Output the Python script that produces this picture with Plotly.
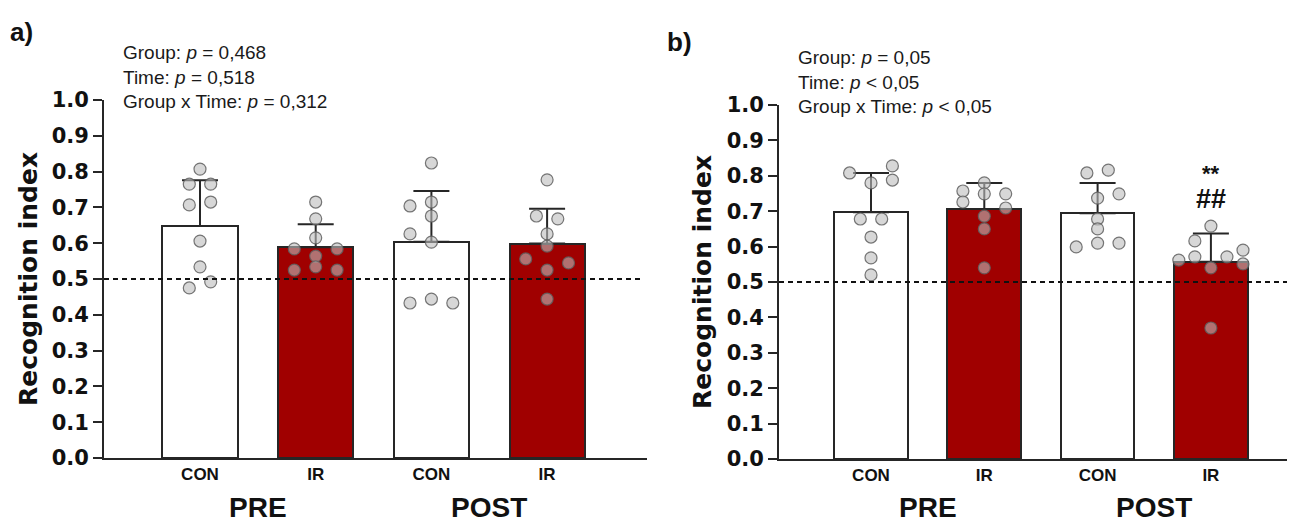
import plotly.graph_objects as go

# ---------------- data ----------------
groups = ["CON", "IR", "CON", "IR"]
times = ["PRE", "POST"]

# panel a
a_means = [0.648, 0.589, 0.604, 0.599]
a_sd = [0.128, 0.064, 0.142, 0.097]
a_con_pre = [0.807, 0.765, 0.765, 0.707, 0.715, 0.606, 0.534, 0.492, 0.475]
a_ir_pre = [0.715, 0.668, 0.615, 0.584, 0.584, 0.564, 0.525, 0.534, 0.525]
a_con_post = [0.824, 0.704, 0.715, 0.676, 0.626, 0.603, 0.433, 0.444, 0.433]
a_ir_post = [0.777, 0.676, 0.668, 0.626, 0.592, 0.556, 0.545, 0.525, 0.444]

# panel b
b_means = [0.697, 0.706, 0.694, 0.557]
b_sd = [0.111, 0.074, 0.086, 0.080]
b_con_pre = [0.808, 0.828, 0.788, 0.780, 0.678, 0.678, 0.627, 0.568, 0.520]
b_ir_pre = [0.780, 0.757, 0.749, 0.749, 0.726, 0.709, 0.686, 0.650, 0.540]
b_con_post = [0.808, 0.816, 0.749, 0.737, 0.678, 0.650, 0.599, 0.610, 0.610]
b_ir_post = [0.658, 0.616, 0.590, 0.562, 0.571, 0.571, 0.551, 0.540, 0.370]

a_stats = ["Group: <i>p</i> = 0,468", "Time: <i>p</i> = 0,518", "Group x Time: <i>p</i> = 0,312"]
b_stats = ["Group: <i>p</i> = 0,05", "Time: <i>p</i> &lt; 0,05", "Group x Time: <i>p</i> &lt; 0,05"]

y_ticks = [0.0, 0.1, 0.2, 0.3, 0.4, 0.5, 0.6, 0.7, 0.8, 0.9, 1.0]
chance_level = 0.5

# swarm layout (marker slots, multiples of one marker spacing)
a_swarm = [
    [0, -1, 1, -1, 1, 0, 0, 1, -1],
    [0, 0, 0, -2, 2, 0, -2, 0, 2],
    [0, -2, 0, 0, -2, 0, -2, 0, 2],
    [0, -1, 1, 0, 0, -2, 2, 0, 0],
]
b_swarm = [
    [-2, 2, 2, 0, -1, 1, 0, 0, 0],
    [0, -2, 0, 2, -2, 2, 0, 0, 0],
    [-1, 1, 2, 0, 0, 0, -2, 0, 2],
    [0, -1.5, 3, -3, -1.5, 1.5, 3, 0, 0],
]

# ---------------- style ----------------
W, H = 1295, 521
OFF = 8  # page body margin: figure is drawn 8px right/down in the window
RED = "#a00000"
AX = "#262626"
FONT = "Arial, Liberation Sans, sans-serif"
WIDEFONT = "DejaVu Sans, sans-serif"
bar_colors = ["white", RED, "white", RED]


def px_x(x):
    return (x - OFF) / W


def px_y(y):
    return (H - (y - OFF)) / H


# pixel geometry (window coordinates)
panels = [
    dict(x0=104, x1=647, y0=458, y1=100, c0=200, step=115.7, sfx=""),
    dict(x0=779, x1=1293, y0=459, y1=105, c0=871, step=113.3, sfx="2"),
]

fig = go.Figure()
datasets = [
    (a_means, a_sd, [a_con_pre, a_ir_pre, a_con_post, a_ir_post], a_swarm),
    (b_means, b_sd, [b_con_pre, b_ir_pre, b_con_post, b_ir_post], b_swarm),
]

for p, (means, sds, pts, swarm) in zip(panels, datasets):
    xa = "x" + p["sfx"]
    ya = "y" + p["sfx"]
    d = 10.7 / p["step"]
    fig.add_trace(go.Bar(
        x=list(range(4)), y=means, width=0.65,
        marker=dict(color=bar_colors, line=dict(color=AX, width=2)),
        error_y=dict(type="data", symmetric=False, array=sds, arrayminus=[0] * 4,
                     color=AX, thickness=2, width=18),
        xaxis=xa, yaxis=ya, showlegend=False, hoverinfo="skip",
    ))
    for i, vals in enumerate(pts):
        fig.add_trace(go.Scatter(
            x=[i + s * d for s in swarm[i]], y=vals, mode="markers",
            marker=dict(size=12, color="rgba(188,188,188,0.6)",
                        line=dict(color="rgba(95,95,95,0.85)", width=1.2)),
            xaxis=xa, yaxis=ya, showlegend=False, hoverinfo="skip",
            cliponaxis=False,
        ))

layout = dict(
    width=W, height=H, margin=dict(l=0, r=0, t=0, b=0),
    paper_bgcolor="white", plot_bgcolor="rgba(0,0,0,0)",
    bargap=0, showlegend=False,
)

shapes = []
annotations = []
for p, stats, letter, lx, ly in zip(panels, [a_stats, b_stats], ["a)", "b)"], [8, 665], [32, 42]):
    sfx = p["sfx"]
    xr0 = (p["x0"] - p["c0"]) / p["step"]
    xr1 = (p["x1"] - p["c0"]) / p["step"]
    layout["xaxis" + sfx] = dict(
        domain=[px_x(p["x0"]), px_x(p["x1"])], range=[xr0, xr1],
        anchor="y" + sfx, showline=True, linewidth=1.8, linecolor=AX,
        ticks="", tickvals=list(range(4)), ticktext=["<b>%s</b>" % g for g in groups],
        tickfont=dict(family=FONT, size=17, color="#111"),
        showgrid=False, zeroline=False, fixedrange=True, automargin=False,
    )
    layout["yaxis" + sfx] = dict(
        domain=[px_y(p["y0"]), px_y(p["y1"])], range=[0, 1.0],
        anchor="x" + sfx, showline=True, linewidth=1.8, linecolor=AX,
        ticks="outside", ticklen=9, tickwidth=1.8, tickcolor=AX,
        tickvals=y_ticks, tickformat=".1f",
        tickfont=dict(family=WIDEFONT, size=21, color="#111", weight="bold"),
        showgrid=False, zeroline=False, fixedrange=True, automargin=False,
    )
    shapes.append(dict(type="line", xref="x" + sfx + " domain", yref="y" + sfx,
                       x0=0, x1=0.99, y0=chance_level, y1=chance_level,
                       line=dict(color="#111", width=1.8, dash="5px,4px")))
    # time labels
    for k, t in enumerate(times):
        annotations.append(dict(
            x=0.5 + 2 * k, y=px_y(507), xref="x" + sfx, yref="paper",
            text="<b>%s</b>" % t, showarrow=False, xanchor="center",
            font=dict(family=FONT, size=28, color="#111"), yanchor="middle",
        ))
    # y title
    annotations.append(dict(
        x=px_x(p["x0"] - 76), y=px_y((p["y0"] + p["y1"]) / 2),
        xref="paper", yref="paper", text="<b>Recognition index</b>",
        textangle=-90, showarrow=False, xanchor="center", yanchor="middle",
        font=dict(family=WIDEFONT, size=25, color="#111"),
    ))
    # stats text
    annotations.append(dict(
        x=px_x(p["x0"] + 17), y=px_y(p["y1"] - 60), xref="paper", yref="paper",
        text="<br>".join(stats), showarrow=False, align="left",
        xanchor="left", yanchor="top",
        font=dict(family=FONT, size=19, color="#1a1a1a"),
    ))
    # panel letter
    annotations.append(dict(
        x=px_x(lx), y=px_y(ly), xref="paper", yref="paper",
        text="<b>%s</b>" % letter, showarrow=False, xanchor="left", yanchor="middle",
        font=dict(family=FONT, size=26, color="#111"),
    ))

# significance marks on POST IR (panel b)
annotations.append(dict(x=3, y=b_means[3] + b_sd[3], xref="x2", yref="y2",
                        text="<b>**</b>", showarrow=False, yanchor="bottom", yshift=45,
                        font=dict(family=FONT, size=22, color="#111")))
annotations.append(dict(x=3, y=b_means[3] + b_sd[3], xref="x2", yref="y2",
                        text="<b>##</b>", showarrow=False, yanchor="bottom", yshift=17,
                        font=dict(family=FONT, size=27, color="#111")))

layout["shapes"] = shapes
layout["annotations"] = annotations
fig.update_layout(**layout)
fig.write_html("out.html")
